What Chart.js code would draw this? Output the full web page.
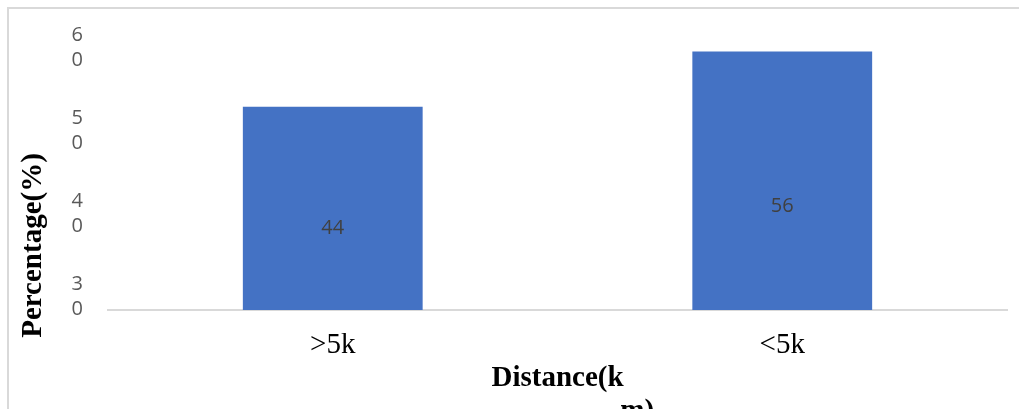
<!DOCTYPE html>
<html>
<head>
<meta charset="utf-8">
<script src="https://cdn.jsdelivr.net/npm/chart.js@4.4.1/dist/chart.umd.min.js"></script>
<style>
  html, body { margin: 0; padding: 0; background: #ffffff; }
  #wrap { position: relative; width: 1019px; height: 409px; overflow: hidden; }
  #frame {
    position: absolute; left: 7px; top: 7px; width: 1030px; height: 420px;
    border-left: 2px solid #d9d9d9; border-top: 2px solid #d9d9d9;
    pointer-events: none;
  }
  canvas { position: absolute; left: 0; top: 0; }
</style>
</head>
<body>
<div id="wrap">
  <canvas id="chart" width="1019" height="409"></canvas>
  <div id="frame"></div>
</div>
<script>
// Share of respondents by distance
const categories = ['>5k', '<5k'];
const percentages = [44, 56];
// Labels printed along the left axis
const yTickValues = [30, 40, 50, 60];

const serif = "'Liberation Serif', 'Times New Roman', serif";
const sans = "'Open Sans', 'Noto Sans', sans-serif";

// Value labels sit in the lower part of each bar
const barValueLabels = {
  id: 'barValueLabels',
  afterDatasetsDraw(chart) {
    const ctx = chart.ctx;
    const meta = chart.getDatasetMeta(0);
    ctx.save();
    ctx.font = '20px ' + sans;
    ctx.fillStyle = '#404040';
    ctx.textAlign = 'center';
    ctx.textBaseline = 'middle';
    meta.data.forEach((bar, i) => {
      const base = bar.base;
      const y = base + (bar.y - base) * 0.4;
      ctx.fillText(String(chart.data.datasets[0].data[i]), bar.x, y);
    });
    ctx.restore();
  }
};

// Rotated title beside the value axis
const yAxisTitle = {
  id: 'yAxisTitle',
  afterDraw(chart) {
    const ctx = chart.ctx;
    ctx.save();
    ctx.translate(34, 245.5);
    ctx.rotate(-Math.PI / 2);
    ctx.font = 'bold 29px ' + serif;
    ctx.fillStyle = '#000000';
    ctx.textAlign = 'center';
    ctx.textBaseline = 'middle';
    ctx.fillText('Percentage(%)', 0, 0);
    ctx.restore();
  }
};

new Chart(document.getElementById('chart'), {
  type: 'bar',
  data: {
    labels: categories,
    datasets: [{
      data: percentages,
      backgroundColor: '#4472C4',
      borderWidth: 0,
      categoryPercentage: 1,
      barPercentage: 0.4,
      yAxisID: 'y'
    }]
  },
  options: {
    responsive: false,
    animation: false,
    devicePixelRatio: 1,
    layout: { padding: { left: 70, right: 12, top: 33, bottom: 0 } },
    plugins: { legend: { display: false }, tooltip: { enabled: false } },
    scales: {
      x: {
        grid: { display: false, drawTicks: false },
        border: { display: true, color: '#d9d9d9', width: 2 },
        ticks: {
          color: '#000000',
          padding: 18,
          font: { family: serif, size: 29, lineHeight: 1.2 }
        },
        title: {
          display: true,
          text: ['Distance(k', ' '.repeat(22) + 'm)'],
          color: '#000000',
          font: { family: serif, size: 29, weight: 'bold', lineHeight: 33 / 29 },
          padding: { top: 0, bottom: -19 }
        },
        afterFit(scale) { scale.height = 99; }
      },
      y: {
        display: false,
        min: 0,
        max: 60
      },
      yLabels: {
        position: 'left',
        min: 28.37,
        max: 61.81,
        grid: { display: false, drawTicks: false },
        border: { display: false },
        afterBuildTicks(scale) {
          scale.ticks = yTickValues.map(v => ({ value: v }));
        },
        ticks: {
          color: '#595959',
          padding: 25,
          font: { family: sans, size: 20, lineHeight: 1.25 },
          callback: (v) => String(v).split('')
        },
        afterFit(scale) {
          scale.width = 38;
          scale.paddingTop = 0;
          scale.paddingBottom = 0;
        }
      }
    }
  },
  plugins: [barValueLabels, yAxisTitle]
});
</script>
</body>
</html>
